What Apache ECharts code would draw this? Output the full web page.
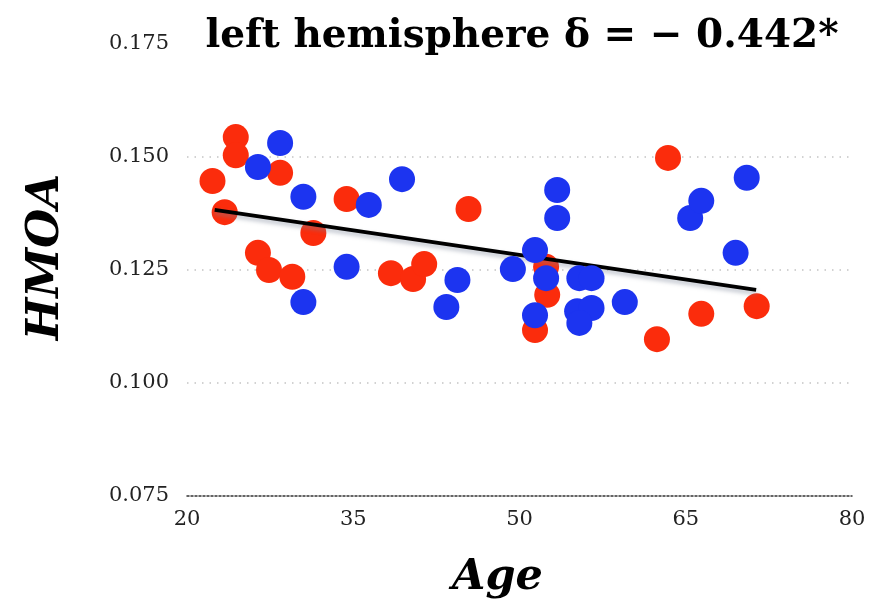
<!DOCTYPE html>
<html>
<head>
<meta charset="utf-8">
<script src="https://cdn.jsdelivr.net/npm/echarts@6/dist/echarts.min.js"></script>
<style>html,body{margin:0;padding:0;background:#fff}#c{width:875px;height:604px}</style>
</head>
<body>
<div id="c"></div>
<script>
// Data (age, HMOA)
const redAge = [24.4,24.4,22.3,23.4,28.4,34.4,31.4,26.4,27.4,29.5,45.4,38.4,40.4,41.4,52.4,52.5,51.4,63.4,66.4,71.4,62.4];
const redHMOA = [0.1544,0.1504,0.1447,0.1378,0.1465,0.1407,0.1332,0.1288,0.1250,0.1235,0.1385,0.1243,0.1230,0.1263,0.1257,0.1195,0.1117,0.1498,0.1153,0.1170,0.1097];
const blueAge = [28.4,26.4,30.5,34.4,30.5,36.4,39.4,44.4,43.4,49.4,51.4,53.4,53.4,52.4,55.4,56.5,59.5,55.2,56.5,55.4,51.4,65.4,66.4,70.5,69.5];
const blueHMOA = [0.1531,0.1478,0.1412,0.1257,0.1179,0.1394,0.1451,0.1228,0.1168,0.1252,0.1294,0.1427,0.1365,0.1232,0.1232,0.1232,0.1179,0.1159,0.1166,0.1133,0.1150,0.1365,0.1403,0.1454,0.1288];
const fitAge = [22.5, 71.35];
const fitHMOA = [0.1383, 0.1206];
const yTicks = [0.075, 0.100, 0.125, 0.150, 0.175];
const xTicks = [20, 35, 50, 65, 80];
const titleText = 'left hemisphere δ = − 0.442*';

const zip = (a, b) => a.map((v, i) => [v, b[i]]);
const gridColors = yTicks.map((v, i) => (i === 0 || i === yTicks.length - 1) ? 'rgba(0,0,0,0)' : '#c4c4c4');
const chart = echarts.init(document.getElementById('c'), null, {renderer: 'canvas'});
chart.setOption({
  backgroundColor: '#ffffff',
  animation: false,
  title: {
    text: titleText,
    left: 517, top: 12, textAlign: 'center',
    textStyle: {fontFamily: 'DejaVu Serif', fontWeight: 'bold', fontSize: 39, color: '#000'}
  },
  grid: {left: 187, right: 23, top: 44, bottom: 108},
  xAxis: {
    type: 'value', min: xTicks[0], max: xTicks[xTicks.length-1], interval: 15,
    name: 'Age', nameLocation: 'middle', nameGap: 60,
    nameTextStyle: {fontFamily: 'DejaVu Serif', fontStyle: 'italic', fontWeight: 'bold', fontSize: 43, color: '#000', padding: [0, 44, 0, 0]},
    axisLine: {show: true, lineStyle: {color: '#333', type: [2, 2], width: 1.5}},
    axisTick: {show: false},
    splitLine: {show: false},
    axisLabel: {margin: 13, fontFamily: 'DejaVu Serif', fontSize: 21, color: '#222'}
  },
  yAxis: {
    type: 'value', min: yTicks[0], max: yTicks[yTicks.length-1], interval: 0.025,
    name: 'HMOA', nameLocation: 'middle', nameGap: 118, nameRotate: 90,
    nameTextStyle: {fontFamily: 'DejaVu Serif', fontStyle: 'italic', fontWeight: 'bold', fontSize: 45, color: '#000', padding: [0, 0, 0, 26]},
    axisLine: {show: false}, axisTick: {show: false},
    splitLine: {show: true, lineStyle: {color: gridColors, type: [1.5, 6], width: 1.5}},
    axisLabel: {margin: 18, fontFamily: 'DejaVu Serif', fontSize: 21, color: '#222',
      formatter: v => v.toFixed(3)}
  },
  series: [
    {
      type: 'scatter', name: 'red', data: zip(redAge, redHMOA), symbolSize: 26,
      itemStyle: {color: '#fb2c0c', opacity: 1}, z: 2
    },
    {
      type: 'line', name: 'fit', data: zip(fitAge, fitHMOA), symbol: 'none',
      lineStyle: {color: '#000', width: 4, shadowColor: 'rgba(120,130,150,0.5)', shadowBlur: 4, shadowOffsetY: 3}, z: 3
    },
    {
      type: 'scatter', name: 'blue', data: zip(blueAge, blueHMOA), symbolSize: 26,
      itemStyle: {color: '#1c34f0', opacity: 1}, z: 4
    }
  ]
});
</script>
</body>
</html>
